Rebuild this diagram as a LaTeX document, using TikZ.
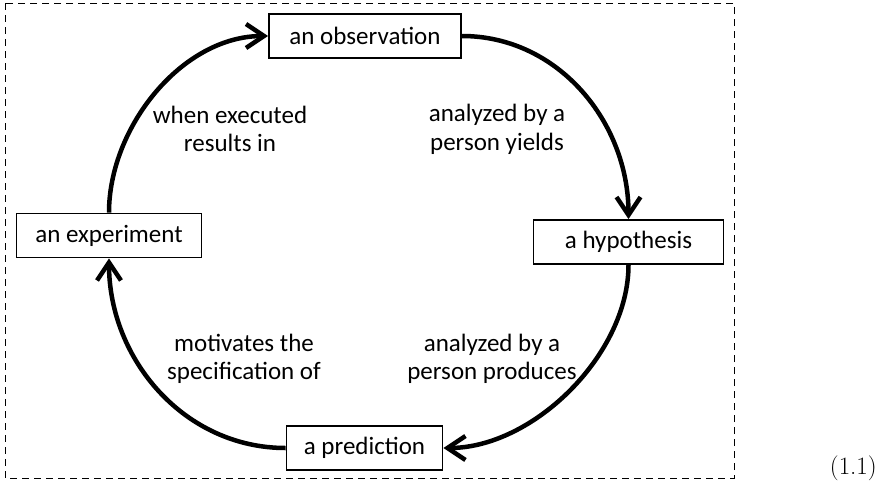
\documentclass[tikz,border=0pt]{standalone}
\usepackage{fontspec}
\newfontfamily\calibri{Carlito}
\usetikzlibrary{arrows.meta}
\begin{document}
\begin{tikzpicture}[x=1pt,y=1pt,
  txt/.style={font=\calibri\fontsize{25}{28.5}\selectfont},
  box/.style={txt, draw, line width=1.8pt, minimum height=44pt, inner sep=0pt},
  lbl/.style={txt, align=center, inner sep=0pt},
  flow/.style={line width=4.5pt, -{Straight Barb[length=18pt,width=24pt]}},
  frame/.style={line width=0.75pt, dash pattern=on 7pt off 5pt}]
\useasboundingbox (0,-480) rectangle (878,0);
\draw[frame] (5,-3) rectangle (734,-478);
\node[box, minimum width=192pt] (obs) at (365,-36) {an observation};
\node[box, minimum width=190pt] (hyp) at (628.5,-242) {a hypothesis};
\node[box, minimum width=156pt] (pred) at (364.5,-448) {a prediction};
\node[box, minimum width=185pt] (exp) at (109,-235.5) {an experiment};
\draw[flow] (obs.east) to[out=0,in=90] (hyp.north);
\draw[flow] (hyp.south) to[out=-90,in=0,looseness=0.88] (pred.east);
\draw[flow] (pred.west) to[out=180,in=-90] (exp.south);
\draw[flow] (exp.north) to[out=90,in=180,looseness=0.92] (obs.west);
\node[lbl] (l1) at (230,-129) {when executed\\results in};
\node[lbl] (l2) at (497,-129.5) {analyzed by a\\person yields};
\node[lbl] (l3) at (244,-359) {motivates the\\specification of};
\node[lbl] (l4) at (492,-359) {analyzed by a\\person produces};
\node[anchor=base east, inner sep=0pt, font=\fontsize{25}{30}\selectfont] (eqn) at (877,-474) {(1.1)};
\end{tikzpicture}
\end{document}
